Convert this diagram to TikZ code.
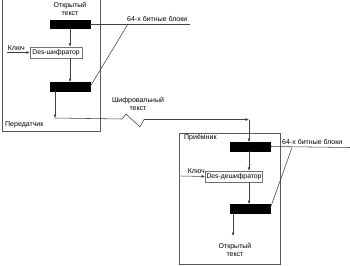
\documentclass[tikz,border=0pt]{standalone}
\usepackage{fontspec}
\setmainfont{Liberation Sans}
\usetikzlibrary{arrows.meta}
\begin{document}
\begin{tikzpicture}[x=1pt,y=-1pt,
  line/.style={draw=black!75,line width=0.55pt},
  arr/.style={line,-{Latex[length=3.5pt,width=3pt]}},
  bar/.style={fill=black,draw=black,minimum width=40pt,minimum height=8.5pt,inner sep=0pt},
  desbox/.style={draw=black!55,line width=0.5pt,inner sep=1.2pt,minimum height=11pt,font=\fontsize{6.8}{7}\selectfont},
  lbl/.style={font=\fontsize{7}{8}\selectfont,inner sep=0pt,align=center},
  frame/.style={draw=black!65,line width=0.55pt}]
\useasboundingbox (0,0) rectangle (350,265);
% frames
\draw[frame] (2,0) -- (2,131) -- (100,131) -- (100,0);
\draw[frame] (179,133) rectangle (280,264);
% transmitter
\node[lbl] (pt1) at (70,9) {Открытый\\текст};
\node[bar] (b1) at (70,24) {};
\node[desbox,minimum width=52pt] (enc) at (56,52.5) {Des-шифратор};
\node[bar] (b2) at (70,86.5) {};
\node[lbl,anchor=east] (k1) at (25,48) {Ключ};
\coordinate (k1s) at (7,52.5);
\node[lbl,anchor=west] (tr) at (5,125) {Передатчик};
\node[lbl,anchor=south west] (blk1) at (127,22) {64-х битные блоки};
\coordinate (l1e) at (190,24);
\coordinate (d1) at (128,24);
\draw[arr] (b1) -- (b1 |- enc.north);
\draw[arr] (enc.south -| b1) -- (b2);
\draw[arr] (k1s) -- (enc.west);
\draw[line] (b1.east) -- (l1e);
\draw[line] (d1) -- (b2.east);
% cipher link
\node[lbl] (ct) at (138,104) {Шифровальный\\текст};
\coordinate (c0) at (55,91);
\coordinate (c1) at (55,118);
\coordinate (c2) at (249,119.5);
\coordinate (z1) at (122,119);
\coordinate (z2) at (126,114);
\coordinate (z3) at (140,127);
\coordinate (z4) at (144,119.5);
\draw[arr] (c0) -- (c1);
\draw[line] (c1) -- (z1) -- (z2) -- (z3) -- (z4);
\draw[arr] (z4) -- (c2);
% receiver
\node[lbl,anchor=west] (rc) at (184,138) {Приёмник};
\node[bar] (r1) at (250,146.5) {};
\node[desbox,minimum width=56pt] (dec) at (234,176.5) {Des-дешифратор};
\node[bar] (r2) at (250,208.5) {};
\node[lbl,anchor=east] (k2) at (205,171) {Ключ};
\coordinate (k2s) at (181,176);
\node[lbl,anchor=south west] (blk2) at (282,145) {64-х битные блоки};
\coordinate (l2e) at (350,147.5);
\coordinate (d2) at (292,147.5);
\node[lbl] (pt2) at (235,250) {Открытый\\текст};
\coordinate (o2) at (233,236);
\draw[arr] (c2) -- (r1.north -| c2);
\draw[arr] (r1.south -| c2) -- (dec.north -| c2);
\draw[arr] (dec.south -| c2) -- (r2.north -| c2);
\draw[arr] (k2s) -- (dec.west);
\draw[line] (r1.east) -- (l2e);
\draw[line] (d2) -- (r2.east);
\draw[arr] (r2.south -| o2) -- (o2);
\end{tikzpicture}
\end{document}
